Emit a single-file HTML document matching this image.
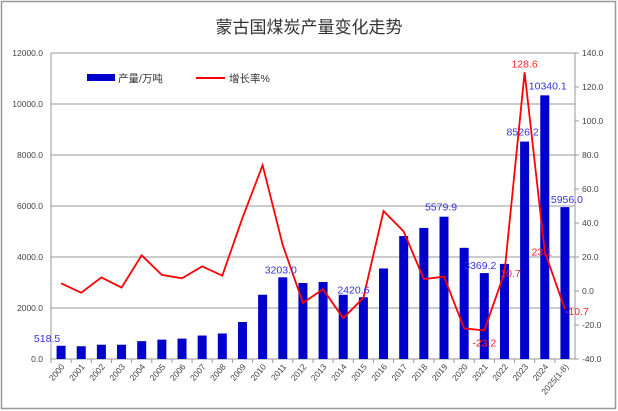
<!DOCTYPE html><html><head><meta charset="utf-8"><style>
body{margin:0;background:#fff}
svg{display:block;font-family:"Liberation Sans","Noto Sans CJK SC",sans-serif}
</style></head><body>
<svg id="c" width="618" height="411" xmlns="http://www.w3.org/2000/svg"></svg>
<script>
const yrs=["2000","2001","2002","2003","2004","2005","2006","2007","2008","2009","2010","2011","2012","2013","2014","2015","2016","2017","2018","2019","2020","2021","2022","2023","2024","2025(1-8)"];
const prod=[518.5,500,560,560,700,760,800,920,1000,1450,2520,3203,2980,3020,2520,2420.6,3550,4820,5140,5579.9,4360,3369.2,3730,8526.2,10340.1,5956];
const gr=[4.5,-1,8,2,21,9.5,7.5,14.5,9,43,74,27,-7,1,-16,-4,47,35,7,8.5,-22,-23.2,10.7,128.6,23.1,-10.7];
const L=51,R=575,T=53,B=359,W=(R-L)/26;
const yl=v=>B-v/12000*(B-T), yr=v=>B-(v+40)/180*(B-T), cx=i=>L+W*(i+0.5);
let s='<rect x="1.5" y="1.5" width="614" height="407" fill="#fff" stroke="#999" stroke-width="1.5"/>';
s+='<text x="309" y="33" font-size="17" text-anchor="middle" fill="#333">蒙古国煤炭产量变化走势</text>';
for(let k=0;k<=6;k++){const y=yl(k*2000);s+=`<line x1="${L}" x2="${R}" y1="${y}" y2="${y}" stroke="#999" stroke-width="1"/>`;
s+=`<text x="${L-8}" y="${y+3}" font-size="8.5" text-anchor="end" fill="#444">${(k*2000).toFixed(1)}</text>`;}
for(let k=0;k<=9;k++){const v=-40+k*20,y=yr(v);s+=`<line x1="${R}" x2="${R+4}" y1="${y}" y2="${y}" stroke="#999"/>`;
s+=`<text x="${R+7}" y="${y+3}" font-size="8.5" fill="#444">${v.toFixed(1)}</text>`;}
s+=`<line x1="${L}" x2="${L}" y1="${T}" y2="${B}" stroke="#999"/><line x1="${R}" x2="${R}" y1="${T}" y2="${B}" stroke="#999"/>`;
yrs.forEach((y,i)=>{const x=L+W*i;s+=`<line x1="${x}" x2="${x}" y1="${B}" y2="${B+4}" stroke="#999"/>`;
s+=`<text transform="translate(${cx(i)+4},${B+8}) rotate(-50)" font-size="8.5" text-anchor="end" fill="#444">${y}</text>`;});
prod.forEach((v,i)=>{s+=`<rect x="${cx(i)-4.5}" y="${yl(v)}" width="9" height="${B-yl(v)}" fill="#0000cc"/>`;});
s+=`<polyline fill="none" stroke="#ff0000" stroke-width="1.8" points="${gr.map((v,i)=>cx(i)+','+yr(v)).join(' ')}"/>`;
const bl=[[0,"518.5",-14,-4],[11,"3203.0",-2,-4],[15,"2420.6",-10,-4],[19,"5579.9",-3,-6],[21,"3369.2",-4,-4],[23,"8526.2",-2,-6],[24,"10340.1",3,-6],[25,"5956.0",2,-4]];
bl.forEach(([i,t,dx,dy])=>{s+=`<text x="${cx(i)+dx}" y="${yl(prod[i])+dy}" font-size="10.5" text-anchor="middle" fill="#3333dd">${t}</text>`;});
const rl=[[21,"-23.2",0,16],[22,"10.7",6,4],[23,"128.6",0,-5],[24,"23.1",-3,4],[25,"-10.7",12,6]];
rl.forEach(([i,t,dx,dy])=>{s+=`<text x="${cx(i)+dx}" y="${yr(gr[i])+dy}" font-size="10.5" text-anchor="middle" fill="#ff2222">${t}</text>`;});
s+='<rect x="87" y="74" width="28" height="7" fill="#0000cc"/><text x="118" y="82" font-size="10.5" fill="#333">产量/万吨</text>';
s+='<line x1="196" x2="225" y1="78" y2="78" stroke="#ff0000" stroke-width="2"/><text x="229" y="82" font-size="10.5" fill="#333">增长率%</text>';
document.getElementById('c').innerHTML=s;
</script></body></html>
